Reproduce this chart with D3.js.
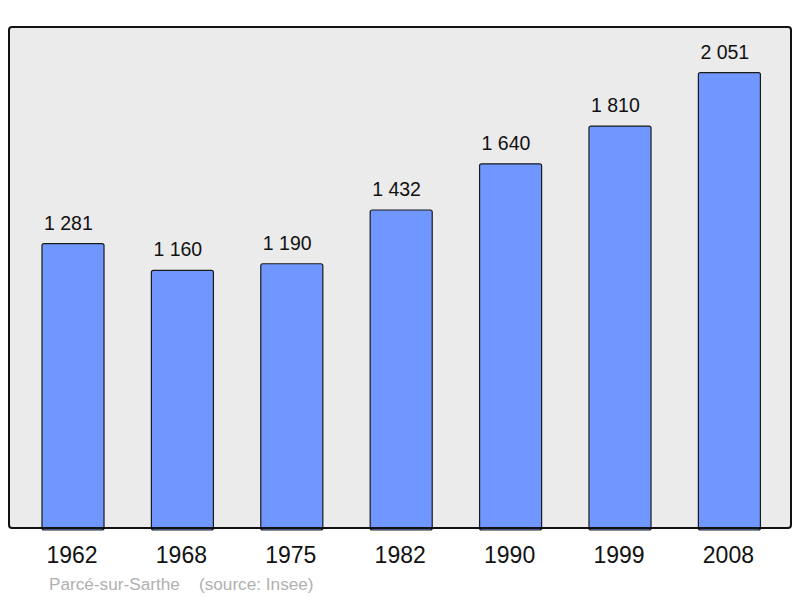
<!DOCTYPE html>
<html>
<head>
<meta charset="utf-8">
<script src="https://cdn.jsdelivr.net/npm/d3@7"></script>
<style>
  body { margin: 0; background: #fff; }
  text { font-family: "Liberation Sans", Arial, sans-serif; }
</style>
</head>
<body>
<div id="chart"></div>
<script>
const years = ["1962", "1968", "1975", "1982", "1990", "1999", "2008"];
const population = [1281, 1160, 1190, 1432, 1640, 1810, 2051];
const commune = "Parcé-sur-Sarthe";
const source = "(source: Insee)";

const width = 800, height = 598;
const frame = { left: 9, top: 27, right: 791, bottom: 528 };

const svg = d3.select("#chart")
    .append("svg")
    .attr("width", width)
    .attr("height", height);

svg.append("rect")
    .attr("x", frame.left)
    .attr("y", frame.top)
    .attr("width", frame.right - frame.left)
    .attr("height", frame.bottom - frame.top)
    .attr("rx", 3)
    .attr("fill", "#ebebeb");

const x = d3.scaleBand()
    .domain(years)
    .range([18.3, 784.1])
    .paddingInner(0.433)
    .paddingOuter(0.2165);

const y = d3.scaleLinear()
    .domain([0, d3.max(population) * 1.1])
    .range([frame.bottom, frame.top]);

const data = years.map((yr, i) => ({ year: yr, value: population[i] }));

svg.selectAll(".bar")
    .data(data)
    .enter()
    .append("rect")
    .attr("class", "bar")
    .attr("x", d => x(d.year))
    .attr("y", d => y(d.value))
    .attr("width", x.bandwidth())
    .attr("height", d => y(0) - y(d.value) + 2)
    .attr("rx", 2)
    .attr("fill", "#7097ff")
    .attr("stroke", "#1a1a1a")
    .attr("stroke-width", 1.2);

// frame border drawn over the bars
svg.append("rect")
    .attr("x", frame.left)
    .attr("y", frame.top)
    .attr("width", frame.right - frame.left)
    .attr("height", frame.bottom - frame.top)
    .attr("rx", 3)
    .attr("fill", "none")
    .attr("stroke", "#111")
    .attr("stroke-width", 2);

svg.selectAll(".value-label")
    .data(data)
    .enter()
    .append("text")
    .attr("class", "value-label")
    .attr("x", d => x(d.year) + 2)
    .attr("y", d => y(d.value) - 14)
    .attr("font-size", 19.5)
    .attr("fill", "#111")
    .text(d => d3.format(",")(d.value).replace(",", " "));

const xAxis = svg.append("g")
    .attr("transform", `translate(0,${frame.bottom})`)
    .call(d3.axisBottom(x).tickSize(0).tickPadding(19));
xAxis.select(".domain").remove();
xAxis.selectAll("text")
    .attr("font-size", 23)
    .attr("font-family", "Liberation Sans, Arial, sans-serif")
    .attr("fill", "#111")
    .attr("dx", -1);

svg.append("text")
    .attr("x", 49)
    .attr("y", 590)
    .attr("font-size", 17.2)
    .attr("fill", "#b0b0b0")
    .attr("xml:space", "preserve")
    .text(commune + "    " + source);
</script>
</body>
</html>
